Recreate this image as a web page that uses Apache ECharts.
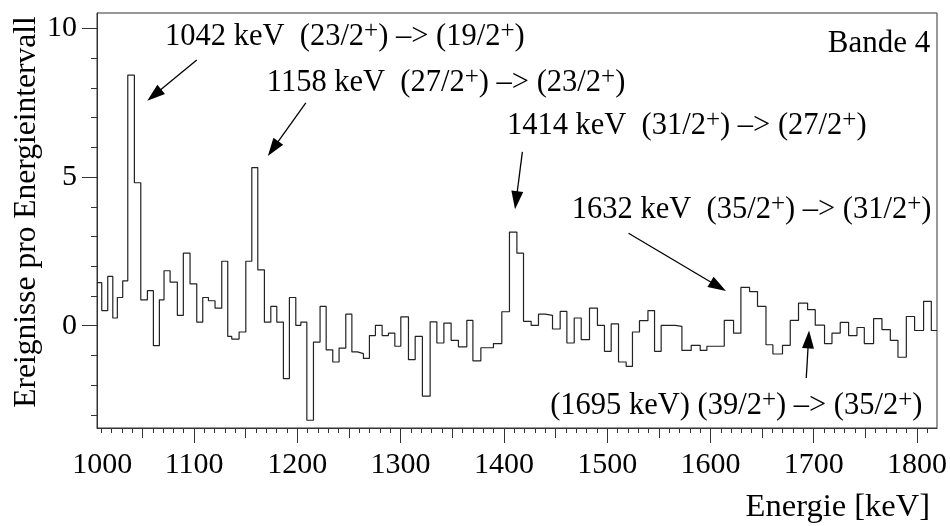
<!DOCTYPE html>
<html>

<head>
  <meta charset="utf-8" />
  <script src="https://cdn.jsdelivr.net/npm/echarts@6/dist/echarts.min.js"></script>
  <style>
    html, body { margin: 0; padding: 0; background: #fff; }
    #chart { width: 950px; height: 526px; }
  </style>
</head>

<body>
  <div id="chart"></div>
  <script type="text/javascript">
    // histogram with variable bin width: edges in keV, one content per bin
    const binEdges = [
      1006.0, 1010.6, 1016.4, 1021.3, 1025.7, 1030.9, 1035.8, 1042.2, 1048.4, 1054.8,
      1060.6, 1066.4, 1070.9, 1076.8, 1083.8, 1089.6, 1096.1, 1102.6, 1108.4, 1113.9,
      1120.3, 1126.8, 1132.6, 1136.5, 1143.6, 1150.1, 1155.9, 1161.7, 1168.1, 1174.3,
      1180.1, 1186.5, 1192.3, 1198.5, 1203.4, 1209.2, 1215.6, 1222.0, 1227.9, 1234.3,
      1240.4, 1246.9, 1252.8, 1258.2, 1264.0, 1269.8, 1275.6, 1282.1, 1288.2, 1294.4,
      1300.2, 1307.6, 1314.1, 1321.1, 1328.6, 1335.1, 1341.9, 1348.9, 1356.0, 1364.1,
      1370.0, 1377.7, 1383.8, 1389.9, 1398.0, 1405.4, 1412.6, 1419.0, 1426.4, 1433.5,
      1440.0, 1447.1, 1454.5, 1461.0, 1468.1, 1474.9, 1482.9, 1490.6, 1497.4, 1503.9,
      1511.0, 1518.4, 1524.5, 1531.3, 1539.5, 1545.9, 1552.3, 1565.9, 1572.4, 1581.4,
      1590.1, 1596.6, 1613.4, 1622.4, 1629.5, 1637.9, 1645.6, 1653.8, 1660.5, 1669.8,
      1677.3, 1685.3, 1694.1, 1701.5, 1710.5, 1717.7, 1725.7, 1733.8, 1741.9, 1749.0,
      1758.0, 1766.1, 1774.2, 1781.6, 1789.7, 1797.7, 1806.4, 1813.9, 1819.4
    ];
    const binCounts = [
      1.45, 0.51, 1.66, 0.26, 0.95, 1.51, 8.43, 4.81, 0.87, 1.18,
      -0.67, 0.87, 1.85, 1.47, 0.35, 2.44, 1.41, 0.12, 0.95, 0.84,
      0.59, 2.17, -0.36, -0.45, -0.21, 2.17, 5.32, 1.88, 0.12, 0.65,
      0.12, -1.78, 0.95, 0.01, 0.12, -3.18, -0.55, 0.65, -0.81, -1.22,
      -0.75, 0.39, -0.88, -0.94, -1.10, -0.33, 0.01, -0.33, -0.25, -0.69,
      0.30, -1.14, -0.36, -2.37, 0.13, -0.58, 0.09, -0.49, -0.71, 0.18,
      -1.18, -0.74, -0.74, -0.60, 0.47, 3.15, 2.44, 0.15, 0.01, 0.39,
      0.35, -0.11, 0.48, -0.58, 0.26, -0.47, 0.59, 0.01, -0.86, 0.06,
      -1.22, -1.37, -0.21, 0.17, 0.51, -0.86, 0.01, -0.02, -0.83, -0.66,
      -0.83, -0.69, 0.18, -0.25, 1.29, 1.15, 0.65, -0.64, -0.95, -0.66,
      0.18, 0.76, 0.54, 0.02, -0.60, -0.25, 0.11, -0.33, -0.06, -0.60,
      0.24, -0.13, -0.49, -1.06, 0.31, -0.16, 0.82, -0.16
    ];

    const X_MIN = 1006, X_MAX = 1819.4;
    const Y_MIN = -3.44, Y_MAX = 10.52;
    const xLabels = [1000, 1100, 1200, 1300, 1400, 1500, 1600, 1700, 1800];
    const xMidTicks = [1050, 1150, 1250, 1350, 1450, 1550, 1650, 1750];
    const yLabels = [0, 5, 10];

    // transition labels
    const noteEnergy = ['1042 keV  ', '1158 keV  ', '1414 keV  ', '1632 keV  ', '(1695 keV) '];
    const noteFrom = ['23/2', '27/2', '31/2', '35/2', '39/2'];
    const noteTo = ['19/2', '23/2', '27/2', '31/2', '35/2'];
    const noteAt = [[1071.9, 9.72], [1170.4, 8.18], [1402.9, 6.73], [1465.8, 3.90], [1444.8, -2.70]];
    const arrowFrom = [[1102.6, 8.94], [1208.2, 7.50], [1417.9, 5.85], [1520.7, 3.11], [1692.8, -1.76]];
    const arrowTo = [[1061.4, 7.76], [1176.5, 5.96], [1411.9, 4.22], [1607.6, 1.32], [1695.0, -0.46]];
    const bandLabel = 'Bande 4';
    const bandAt = [1812.9, 9.47];

    const FONT = 'Liberation Serif';
    const INK = '#333';

    const minorX = [];
    for (let v = 1010; v < X_MAX; v += 10) if (v % 50 !== 0) minorX.push(v);
    const minorY = [];
    for (let v = -3; v <= 10; v++) if (v % 5 !== 0) minorY.push(v);

    const stepData = binCounts.map((c, i) => [binEdges[i], c]);
    stepData.push([binEdges[binEdges.length - 1], binCounts[binCounts.length - 1]]);

    const rich = {
      t: { fontFamily: FONT, fontSize: 30.5, lineHeight: 36, color: '#000' },
      s: { fontFamily: FONT, fontSize: 25, lineHeight: 12, color: '#000', verticalAlign: 'top' }
    };

    const noteText = i => '{t|' + noteEnergy[i] + '(' + noteFrom[i] + '}{s|+}{t|) –> (' +
      noteTo[i] + '}{s|+}{t|)}';

    const tickAxisX = (ticks, len) => ({
      type: 'value', min: X_MIN, max: X_MAX, position: 'bottom',
      axisLine: { show: false, onZero: false },
      axisTick: { show: true, length: len, customValues: ticks, lineStyle: { color: INK } },
      axisLabel: { show: false },
      splitLine: { show: false }
    });

    const chart = echarts.init(document.getElementById('chart'));

    const option = {
      animation: false,
      title: {
        text: 'Energie [keV]',
        right: 20, top: 491, padding: 0,
        textStyle: { fontFamily: FONT, fontSize: 32.5, fontWeight: 'normal', color: '#000' }
      },
      grid: {
        left: 97, right: 13, top: 13, bottom: 98,
        show: true, borderColor: INK, borderWidth: 1,
        outerBoundsMode: 'none'
      },
      xAxis: [
        {
          type: 'value', min: X_MIN, max: X_MAX, position: 'bottom',
          axisLine: { show: true, onZero: false, lineStyle: { color: INK } },
          axisTick: { show: true, length: 15, customValues: xLabels, lineStyle: { color: INK } },
          axisLabel: {
            customValues: xLabels.map(v => Math.max(v, X_MIN + 5)),
            formatter: v => String(Math.round(v / 100) * 100),
            margin: 22, fontFamily: FONT, fontSize: 30, color: '#000'
          },
          splitLine: { show: false }
        },
        tickAxisX(xMidTicks, 10),
        tickAxisX(minorX, 5)
      ],
      yAxis: [
        {
          type: 'value', min: Y_MIN, max: Y_MAX, position: 'left',
          name: 'Ereignisse pro Energieintervall', nameLocation: 'middle', nameGap: 54,
          nameMoveOverlap: false,
          nameTextStyle: { fontFamily: FONT, fontSize: 31.5, color: '#000', padding: [0, 0, 0, 17] },
          axisLine: { show: true, onZero: false, lineStyle: { color: INK } },
          axisTick: { show: true, length: 15, customValues: yLabels, lineStyle: { color: INK } },
          axisLabel: { customValues: yLabels, margin: 20, fontFamily: FONT, fontSize: 30, color: '#000' },
          splitLine: { show: false }
        },
        {
          type: 'value', min: Y_MIN, max: Y_MAX, position: 'left',
          axisLine: { show: false, onZero: false },
          axisTick: { show: true, length: 6, customValues: minorY, lineStyle: { color: INK } },
          axisLabel: { show: false },
          splitLine: { show: false }
        }
      ],
      series: [
        {
          type: 'line',
          step: 'end',
          data: stepData,
          symbol: 'none',
          clip: true,
          silent: true,
          lineStyle: { color: '#222', width: 1.2 },
          markLine: {
            silent: true,
            symbol: ['none', 'triangle'],
            symbolSize: [12, 18],
            lineStyle: { color: '#000', width: 1.3, type: 'solid' },
            label: { show: false },
            data: arrowFrom.map((p, i) => [{ coord: p }, { coord: arrowTo[i] }])
          },
          markPoint: {
            silent: true,
            symbol: 'circle',
            symbolSize: 0,
            label: { show: true, position: 'right', distance: 0 },
            data: [
              ...noteAt.map((p, i) => ({
                coord: p,
                label: { formatter: noteText(i), rich: rich }
              })),
              {
                coord: bandAt,
                label: {
                  position: 'left', formatter: bandLabel,
                  fontFamily: FONT, fontSize: 31, color: '#000'
                }
              }
            ]
          }
        }
      ]
    };

    chart.setOption(option);
  </script>
</body>

</html>
